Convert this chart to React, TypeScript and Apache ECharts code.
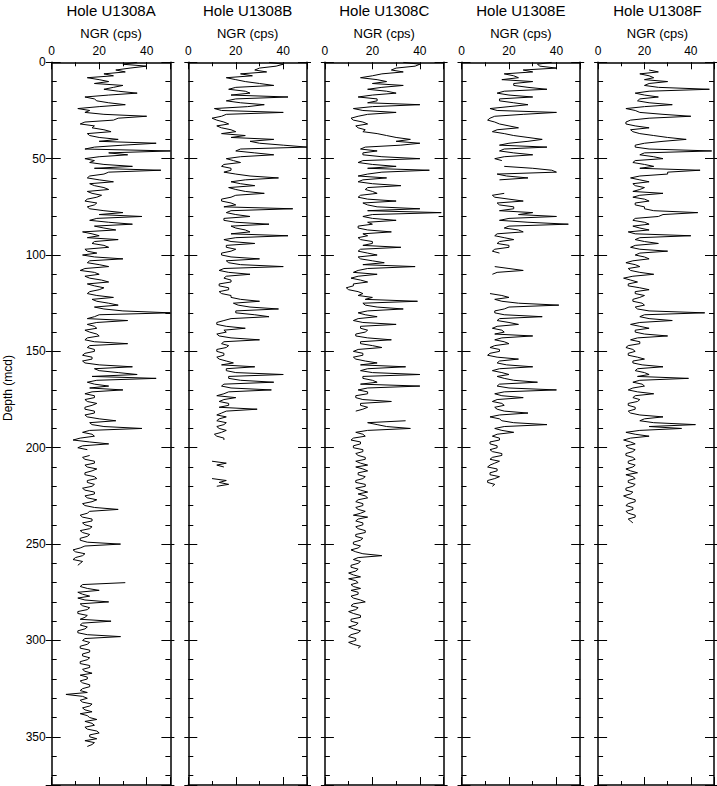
import React, { useEffect, useRef } from "react";
import * as echarts from "echarts";

// ---- data (NGR in cps, sampled every DEPTH_STEP m of depth; null = no core) ----
const DEPTH_STEP = 1;
const HOLES = ["Hole U1308A", "Hole U1308B", "Hole U1308C", "Hole U1308E", "Hole U1308F"];
const X_TICK_LABELS = [0, 20, 40];
const DEPTH_TICK_LABELS = [0, 50, 100, 150, 200, 250, 300, 350];

const ngrA: (number | null)[] = [
  36, 30, 40, 33, 27, 31, 22, 26, 15, 20,
  24, 18, 30, 26, 22, 28, 36, 24, 14, 18,
  19, 24, 31, 20, 11, 16, 14, 22, 40, 28,
  26, 14, 12, 18, 17, 22, 25, 15, 16, 20,
  28, 20, 44, 30, 18, 14, 50, 24, 32, 20,
  14, 18, 16, 22, 34, 18, 46, 24, 22, 16,
  15, 20, 26, 16, 18, 22, 24, 15, 17, 21,
  19, 15, 14, 19, 18, 15, 16, 22, 30, 20,
  38, 19, 16, 24, 34, 18, 22, 27, 13, 17,
  20, 15, 28, 18, 17, 22, 24, 14, 15, 19,
  13, 18, 30, 16, 15, 20, 24, 14, 12, 18,
  20, 14, 16, 21, 24, 15, 18, 22, 20, 16,
  15, 19, 26, 17, 19, 24, 28, 18, 22, 30,
  50, 20, 18, 15, 32, 19, 15, 18, 19, 14,
  16, 19, 20, 15, 14, 18, 32, 16, 15, 18,
  18, 14, 13, 17, 17, 13, 14, 20, 34, 18,
  20, 28, 36, 17, 44, 19, 15, 18, 24, 16,
  30, 17, 14, 18, 18, 14, 15, 19, 17, 14,
  14, 18, 18, 14, 15, 20, 27, 16, 17, 22,
  38, 16, 13, 17, 18, 12, 9, 16, 24, 13,
  11, 15, null, null, 16, 13, 14, 18, 18, 14,
  15, 19, 17, 14, 14, 18, 19, 15, 15, 18,
  17, 13, 14, 18, 18, 14, 15, 19, 17, 13,
  14, 18, 28, 16, 15, 12, 13, 17, 17, 13,
  14, 17, 16, 12, 13, 16, 15, 12, 12, 15,
  29, 14, 12, 9, 10, 14, 13, 10, 9, 13,
  12, 11, null, null, null, null, null, null, null, null,
  31, 13, 12, 15, 20, 11, 13, 16, 11, 14,
  24, 12, 13, 16, 15, 11, 11, 15, 14, 12,
  25, 13, 12, 15, 14, 11, 11, 15, 29, 14,
  13, 16, 15, 12, 12, 16, 16, 13, 13, 16,
  15, 12, 12, 16, 16, 13, 14, 17, 12, 15,
  15, 12, 13, 16, 16, 13, 12, 15, 6, 13,
  15, 12, 13, 17, 16, 13, 14, 17, 12, 15,
  16, 19, 14, 17, 18, 14, 15, 19, 20, 16,
  16, 19, 14, 18, 17, 15,
];

const ngrB: (number | null)[] = [
  34, 40, 37, 30, 28, 33, 22, 27, 16, 20,
  24, 30, 36, 20, 17, 24, 26, 18, 42, 20,
  16, 22, 32, 25, 11, 14, 40, 16, 14, 10,
  12, 15, 17, 12, 14, 18, 20, 14, 24, 18,
  36, 26, 30, 40, 50, 22, 20, 28, 36, 22,
  16, 19, 22, 15, 14, 18, 18, 15, 20, 26,
  38, 24, 18, 22, 28, 17, 20, 24, 32, 20,
  18, 14, 14, 18, 20, 15, 44, 18, 16, 20,
  26, 15, 15, 20, 34, 18, 20, 24, 26, 18,
  42, 20, 15, 18, 28, 16, 16, 20, 18, 14,
  14, 18, 30, 16, 17, 22, 40, 15, 13, 17,
  26, 16, 15, 18, 18, 13, 13, 17, 17, 13,
  14, 18, 18, 22, 30, 19, 21, 26, 38, 20,
  20, 28, 34, 18, 15, 12, 12, 16, 24, 15,
  16, 12, 13, 18, 30, 15, 14, 17, 16, 12,
  12, 15, 15, 12, 13, 16, 19, 14, 28, 16,
  16, 20, 40, 17, 17, 22, 36, 15, 14, 18,
  35, 17, 15, 12, 20, 15, 13, 17, 17, 13,
  29, 16, 14, 12, 16, 13, 12, 16, 15, 12,
  13, 16, 14, 11, 12, 15, 15, null, null, null,
  null, null, null, null, null, null, null, 10, 16, 12,
  15, null, null, null, null, null, 10, 16, 13, 17,
  12,
];

const ngrC: (number | null)[] = [
  33, 40, 38, 30, 28, 33, 24, 20, 15, 22,
  26, 20, 33, 24, 18, 26, 30, 20, 14, 22,
  22, 18, 40, 20, 12, 16, 30, 18, 14, 11,
  12, 16, 18, 13, 14, 17, 16, 22, 26, 30,
  36, 30, 40, 32, 17, 15, 22, 16, 16, 24,
  40, 16, 14, 20, 30, 18, 44, 24, 18, 14,
  26, 16, 14, 20, 32, 18, 17, 20, 22, 15,
  14, 18, 30, 16, 18, 22, 40, 18, 49, 20,
  16, 20, 30, 18, 20, 14, 14, 18, 28, 16,
  18, 14, 15, 20, 20, 16, 32, 15, 14, 18,
  22, 14, 15, 20, 25, 16, 38, 18, 14, 12,
  22, 14, 11, 15, 18, 12, 12, 9, 10, 14,
  16, 14, 20, 17, 39, 16, 17, 22, 33, 18,
  14, 17, 22, 14, 12, 16, 30, 15, 15, 18,
  17, 13, 13, 18, 28, 15, 15, 20, 24, 14,
  12, 16, 16, 12, 13, 17, 22, 15, 34, 18,
  15, 20, 40, 16, 16, 20, 22, 15, 40, 18,
  14, 18, 18, 13, 13, 16, 28, 15, 15, 18,
  16, 13, null, null, null, null, 34, 18, 22, 26,
  36, 18, 13, 16, 17, 12, 11, 15, 15, 12,
  12, 16, 16, 13, 14, 17, 17, 13, 15, 18,
  13, 16, 18, 14, 14, 17, 16, 13, 13, 17,
  17, 13, 15, 18, 14, 17, 18, 14, 13, 16,
  16, 13, 14, 17, 15, 12, 18, 14, 13, 16,
  16, 13, 14, 17, 17, 13, 13, 16, 15, 12,
  12, 15, 14, 11, 13, 16, 24, 14, 12, 15,
  14, 11, 11, 14, 13, 10, 12, 15, 10, 13,
  14, 11, 12, 15, 11, 14, 14, 11, 12, 15,
  17, 12, 11, 14, 13, 10, 12, 15, 15, 11,
  11, 14, 13, 10, 12, 15, 14, 11, 10, 13,
  13, 10, 12, 15, 14,
];

const ngrE: (number | null)[] = [
  38, 32, 33, 40, 26, 30, 18, 22, 24, 17,
  30, 22, 22, 28, 36, 18, 15, 20, 30, 16,
  16, 22, 28, 20, 12, 15, 40, 26, 14, 12,
  11, 14, 16, 20, 24, 15, 13, 18, 22, 28,
  34, 28, 20, 16, 36, 18, 16, 22, 30, 18,
  14, 17, null, null, 18, 30, 38, 40, 15, 19,
  28, 16, null, null, null, null, null, null, 18, 13,
  14, 20, 26, 15, 16, 22, 22, 16, 30, 24,
  40, 20, 16, 28, 45, 20, 18, 24, 26, 15,
  14, 18, 22, 16, 15, 20, 20, 14, 13, 16,
  null, null, null, null, null, null, 14, 20, 26, 15,
  13, null, null, null, null, null, null, null, null, null,
  12, 17, 20, 14, 17, 24, 41, 20, 18, 14,
  14, 18, 34, 16, 15, 20, 24, 15, 13, 17,
  18, 14, 30, 17, 14, 18, 20, 14, 12, 16,
  16, 12, 11, 15, 24, 16, 15, 19, 30, 16,
  13, 17, 20, 15, 18, 22, 32, 16, 15, 20,
  40, 18, 14, 17, 26, 15, 13, 17, 18, 14,
  15, 18, 28, 16, 12, 16, 17, 22, 36, 18,
  14, 17, 22, 15, 13, 16, 16, 12, 12, 15,
  15, 12, 13, 17, 17, 13, 12, 16, 14, 12,
  11, 15, 15, 12, 12, 16, 14, 11, 11, 14,
  13,
];

const ngrF: (number | null)[] = [
  null, null, null, null, 22, 26, 18, 22, 24, 20,
  30, 22, 20, 26, 48, 22, 16, 20, 26, 18,
  17, 22, 32, 20, 12, 16, 18, 28, 40, 22,
  14, 12, 12, 16, 22, 14, 15, 18, 24, 30,
  38, 28, 20, 16, 16, 22, 49, 20, 18, 24,
  28, 16, 15, 20, 24, 18, 44, 30, 30, 18,
  14, 18, 22, 15, 16, 20, 18, 15, 28, 18,
  15, 20, 22, 16, 16, 20, 20, 24, 43, 28,
  26, 16, 15, 20, 22, 15, 18, 22, 13, 16,
  40, 18, 16, 20, 26, 16, 14, 18, 30, 18,
  16, 20, 22, 15, 12, 16, 18, 13, 14, 18,
  24, 15, 11, 14, 17, 13, 13, 18, 22, 16,
  16, 20, 18, 15, 15, 19, 20, 16, 17, 22,
  46, 20, 18, 22, 32, 18, 14, 18, 22, 16,
  16, 20, 30, 17, 14, 18, 18, 13, 12, 15,
  16, 13, 13, 17, 20, 15, 15, 19, 28, 17,
  16, 20, 22, 17, 39, 18, 15, 19, 20, 15,
  13, 17, 24, 16, 15, 18, 17, 13, 13, 16,
  16, 13, 14, 18, 28, 20, 18, 24, 42, 22,
  36, 18, 12, 16, 22, 14, 11, 14, 16, 12,
  13, 16, 15, 12, 12, 15, 16, 13, 13, 16,
  15, 12, 14, 17, 12, 15, 16, 13, 13, 16,
  15, 12, 12, 15, 14, 11, 13, 16, 16, 13,
  12, 15, 15, 12, 13, 16, 16, 13, 14, 15,
];

const SERIES = [ngrA, ngrB, ngrC, ngrE, ngrF];

// ---- layout ----
const PANEL_LEFT = [51.7, 188.3, 324.9, 461.5, 598.1];
const PANEL_W = 118.7;
const PANEL_TOP = 62.3;
const PANEL_H = 722.7;
const FONT = "'Liberation Sans', Arial, Helvetica, sans-serif";

export default function App() {
  const ref = useRef<HTMLDivElement>(null);

  useEffect(() => {
    if (!ref.current) return;
    const chart = echarts.init(ref.current, undefined, { renderer: "svg" });

    const grids: any[] = [];
    const xAxes: any[] = [];
    const yAxes: any[] = [];
    const series: any[] = [];
    const graphic: any[] = [];
    const black = "#000";

    SERIES.forEach((vals, gi) => {
      grids.push({ left: PANEL_LEFT[gi], top: PANEL_TOP, width: PANEL_W, height: PANEL_H, containLabel: false });
      const xBase = {
        gridIndex: gi, type: "value", min: 0, max: 50,
        splitLine: { show: false }, axisLabel: { show: false },
        axisLine: { show: false, onZero: false },
      };
      const xi = xAxes.length;
      xAxes.push(
        { ...xBase, position: "top", interval: 10,
          axisLine: { show: true, onZero: false, lineStyle: { color: black, width: 1.5 } },
          axisTick: { inside: true, length: 4, lineStyle: { color: black, width: 1 } } },
        { ...xBase, position: "top", interval: 20,
          axisTick: { inside: true, length: 7, lineStyle: { color: black, width: 1 } },
          axisLabel: { show: true, margin: 5, fontSize: 12, color: black, fontFamily: FONT,
            formatter: (v: number) => (X_TICK_LABELS.includes(v) ? String(v) : "") } },
        { ...xBase, position: "bottom", interval: 10,
          axisLine: { show: true, onZero: false, lineStyle: { color: black, width: 1.5 } },
          axisTick: { inside: true, length: 4, lineStyle: { color: black, width: 1 } } },
        { ...xBase, position: "bottom", interval: 20,
          axisTick: { inside: true, length: 8, lineStyle: { color: black, width: 1 } } },
      );
      const yBase = {
        gridIndex: gi, type: "value", min: 0, max: 375, inverse: true,
        splitLine: { show: false }, axisLabel: { show: false },
        axisLine: { show: false, onZero: false },
      };
      const yi = yAxes.length;
      (["left", "right"] as const).forEach((pos) => {
        yAxes.push(
          { ...yBase, position: pos, interval: 10,
            axisLine: { show: true, onZero: false, lineStyle: { color: black, width: 1.5 } },
            axisTick: { inside: true, length: 5, lineStyle: { color: black, width: 1 } } },
          { ...yBase, position: pos, interval: 50,
            axisTick: { inside: true, length: 9, lineStyle: { color: black, width: 1 } } },
          { ...yBase, position: pos, interval: 50,
            axisTick: { inside: false, length: pos === "left" && gi === 0 ? 6 : 4, lineStyle: { color: black, width: 1 } },
            axisLabel: pos === "left" && gi === 0
              ? { show: true, margin: 6, fontSize: 12, color: black, fontFamily: FONT,
                  formatter: (v: number) => (DEPTH_TICK_LABELS.includes(v) ? String(v) : "") }
              : { show: false } },
        );
      });
      series.push({
        type: "line", xAxisIndex: xi, yAxisIndex: yi, showSymbol: false, symbol: "none",
        connectNulls: false, silent: true,
        lineStyle: { color: black, width: 1 },
        data: vals.map((v, k) => [v === null ? "-" : v, k * DEPTH_STEP]),
      });
      const cx = PANEL_LEFT[gi] + PANEL_W / 2;
      graphic.push(
        { type: "text", x: cx, y: 10, style: { text: HOLES[gi], fontSize: 15, fontFamily: FONT, fill: black, align: "center", verticalAlign: "middle" } },
        { type: "text", x: cx, y: 33, style: { text: "NGR (cps)", fontSize: 13, fontFamily: FONT, fill: black, align: "center", verticalAlign: "middle" } },
      );
    });
    graphic.push({
      type: "text", x: 8, y: 388, rotation: Math.PI / 2,
      style: { text: "Depth (mcd)", fontSize: 12, fontFamily: FONT, fill: black, align: "center", verticalAlign: "middle" },
    });

    chart.setOption({
      animation: false,
      backgroundColor: "#fff",
      grid: grids,
      xAxis: xAxes,
      yAxis: yAxes,
      series,
      graphic,
    });
    return () => chart.dispose();
  }, []);

  return <div ref={ref} style={{ position: "fixed", left: 0, top: 0, width: 717, height: 786 }} />;
}
